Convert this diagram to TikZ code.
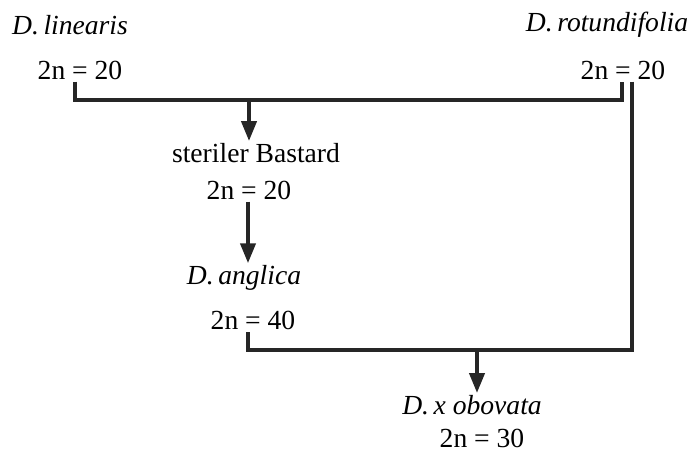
\documentclass[tikz,border=0pt]{standalone}
\usepackage{fontspec}
\setmainfont{Liberation Serif}
\usetikzlibrary{arrows.meta}
\begin{document}
\begin{tikzpicture}[x=1pt,y=-1pt,
  lbl/.style={inner sep=2pt,font=\fontsize{27.6}{31}\selectfont},
  conn/.style={line width=4pt,line join=miter,draw=black!85},
  arr/.style={conn,-{Triangle[width=15pt,length=20pt]}}]
\useasboundingbox (0,0) rectangle (696,457);
\node[lbl] (lin) at (70,25) {\textit{D.\,linearis}};
\node[lbl] (lin2n) at (80,70) {2n = 20};
\node[lbl] (rot) at (607,25) {\textit{D.\,rotundifolia}};
\node[lbl] (rot2n) at (623,70) {2n = 20};
\node[lbl] (ster) at (256,153) {steriler Bastard};
\node[lbl] (ster2n) at (249,190) {2n = 20};
\node[lbl] (ang) at (244,278) {\textit{D.\,anglica}};
\node[lbl] (ang2n) at (253,320) {2n = 40};
\node[lbl] (obo) at (472,405) {\textit{D.\,x obovata}};
\node[lbl] (obo2n) at (482,438) {2n = 30};
\coordinate (a1) at (75,100);
\coordinate (b1) at (622,100);
\coordinate (m1) at (249,100);
\coordinate (c1) at (632,350);
\coordinate (c2) at (248,350);
\coordinate (m3) at (477,350);
\draw[conn] (lin2n.south -| a1) -- (a1) -- (b1) -- (rot2n.south -| b1);
\draw[arr] (m1) -- (m1 |- ster.north);
\draw[arr] (ster2n.south -| c2) -- (ang.north -| c2);
\draw[conn] (rot2n.south -| c1) -- (c1) -- (c2) -- (ang2n.south -| c2);
\draw[arr] (m3) -- (m3 |- obo.north);
\end{tikzpicture}
\end{document}
